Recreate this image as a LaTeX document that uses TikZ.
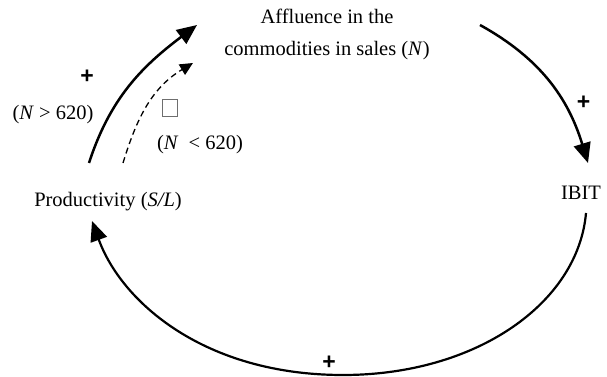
\documentclass[tikz,border=0pt]{standalone}
\usepackage{fontspec}
\setmainfont{Liberation Serif}
\setsansfont{Liberation Sans}
\usepackage{tikz}
\usetikzlibrary{arrows.meta,calc,positioning}
\definecolor{boxgray}{HTML}{6E6E6E}

\begin{document}
\begin{tikzpicture}[x=1pt,y=1pt,>={Triangle[length=20pt,width=17pt]},
    every node/.style={font=\fontsize{20.5}{32}\selectfont,inner sep=0pt},
    sign/.style={font=\sffamily\bfseries\fontsize{23}{26}\selectfont},
    link/.style={->,line width=2.5pt},
    weaklink/.style={-{Triangle[length=13pt,width=12pt]},line width=1.3pt,dash pattern=on 6pt off 4pt}]
    \useasboundingbox (0,0) rectangle (607,377);
    \node[align=center] (aff) at (327,343) {Affluence in the\\commodities in sales (\textit{N})};
    \node (prod) at (108,175) {Productivity (\textit{S/L})};
    \node (ibit) at (581,184) {IBIT};
    \node[sign] (plusup) at (87,300) {+};
    \node (gt) at (53,262) {(\textit{N} > 620)};
    \node[draw=boxgray,line width=0.8pt,minimum width=15pt,minimum height=17pt] (gap) at (169.5,269) {};
    \node (lt) at (200,232) {(\textit{N}\ \ < 620)};
    \node[sign] (plusright) at (583.5,274) {+};
    \node[sign] (plusdown) at (329,14.5) {+};
    \coordinate (bot) at (343,2);
    \draw[link] ($(prod)+(-19,39)$) to[out=72,in=217] ($(aff)+(-130,9)$);
    \draw[weaklink] ($(prod)+(15,39)$) to[out=73,in=211] ($(aff)+(-134,-29)$);
    \draw[link] ($(aff)+(153,9)$) to[out=-29,in=107] ($(ibit)+(7,30)$);
    \draw[link,line width=2.2pt] ($(ibit)+(5,-20)$)
      to[out=-95,in=0,out distance=90pt,in distance=134pt] (bot)
      to[out=180,in=-70,out distance=139pt,in distance=86pt] ($(prod)+(-16,-19)$);
\end{tikzpicture}
\end{document}
